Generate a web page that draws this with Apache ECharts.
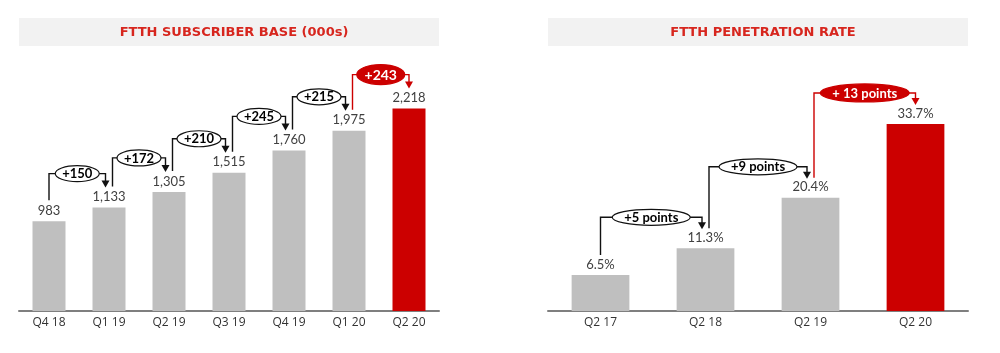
<!DOCTYPE html>
<html>
<head>
<meta charset="utf-8">
<script src="https://cdn.jsdelivr.net/npm/echarts@6/dist/echarts.min.js"></script>
<style>
  * { margin: 0; padding: 0; }
  #chart-container { width: 1000px; height: 353px; background: #fff; }
</style>
</head>
<body>
<div id="chart-container"></div>
<script>
  // left: FTTH subscriber base (000s)
  var subsQuarters = ['Q4 18', 'Q1 19', 'Q2 19', 'Q3 19', 'Q4 19', 'Q1 20', 'Q2 20']
  var subsValues = [983, 1133, 1305, 1515, 1760, 1975, 2218]
  var subsDeltas = ['+150', '+172', '+210', '+245', '+215', '+243']

  // right: FTTH penetration rate (%)
  var rateQuarters = ['Q2 17', 'Q2 18', 'Q2 19', 'Q2 20']
  var rateValues = [6.5, 11.3, 20.4, 33.7]
  var rateDeltas = ['+5 points', '+9 points', '+ 13 points']

  var RED = '#cc0000'
  var GREY = '#bfbfbf'
  var FONT = 'Lato'

  var chartDom = document.getElementById('chart-container')
  var myChart = echarts.init(chartDom, null, { renderer: 'canvas' })

  function barColor(n) {
    return function (p) {
      return p.dataIndex === n - 1 ? RED : GREY
    }
  }

  // bracket arrows between consecutive bars, positioned from the axes
  function brackets(axisIdx, values, deltas, cfg) {
    return {
      type: 'custom',
      xAxisIndex: axisIdx,
      yAxisIndex: axisIdx,
      silent: true,
      z: 5,
      encode: { x: 0, y: [1, 2] },
      data: deltas.map(function (d, i) {
        return [i, values[i], values[i + 1]]
      }),
      renderItem: function (params, api) {
        var i = api.value(0)
        var p0 = api.coord([i, api.value(1)])
        var p1 = api.coord([i + 1, api.value(2)])
        var last = params.dataIndex === deltas.length - 1
        var col = last ? RED : '#111'
        var sx = i === 0 ? p0[0] : p0[0] + 3.5
        var sy = p0[1] - cfg.gap
        var ax = last ? p1[0] : p1[0] - 3.5
        var tip = p1[1] - cfg.gap + 1
        var lvl = p1[1] - cfg.level
        var cx = (sx + ax) / 2
        var w = last ? cfg.redW : cfg.w
        var h = last ? cfg.redH : cfg.h
        return {
          type: 'group',
          children: [
            {
              type: 'polyline',
              shape: { points: [[sx, sy], [sx, lvl], [ax, lvl], [ax, tip - 6]] },
              style: { stroke: col, lineWidth: 1.4, fill: 'none' },
            },
            {
              type: 'polygon',
              shape: { points: [[ax - 4, tip - 7], [ax + 4, tip - 7], [ax, tip]] },
              style: { fill: col },
            },
            {
              type: 'ellipse',
              shape: { cx: cx, cy: lvl, rx: w / 2, ry: h / 2 },
              style: { fill: last ? RED : '#fff', stroke: col, lineWidth: 1.2 },
            },
            {
              type: 'text',
              x: cx,
              y: lvl + 0.5,
              style: {
                text: deltas[params.dataIndex],
                align: 'center',
                verticalAlign: 'middle',
                font: 'bold ' + (last ? cfg.redFs : cfg.fs) + 'px ' + FONT,
                fill: last ? '#fff' : '#000',
              },
            },
          ],
        }
      },
    }
  }

  function titleBar(x, text) {
    return [
      {
        type: 'rect',
        left: x,
        top: 18,
        shape: { width: 420, height: 28 },
        style: { fill: '#f2f2f2' },
      },
      {
        type: 'text',
        x: x + 215,
        y: 33,
        style: {
          text: text,
          align: 'center',
          verticalAlign: 'middle',
          font: 'bold 13px "DejaVu Sans"',
          fill: '#d7261e',
        },
      },
    ]
  }

  var xAxisBase = {
    type: 'category',
    axisTick: { show: false },
    axisLine: { lineStyle: { color: '#7f7f7f', width: 2 } },
    axisLabel: { color: '#333', fontSize: 12, fontFamily: 'Open Sans', margin: 6 },
  }

  var option = {
    animation: false,
    graphic: titleBar(19, 'FTTH SUBSCRIBER BASE (000s)').concat(
      titleBar(548, 'FTTH PENETRATION RATE')
    ),
    grid: [
      { left: 19, width: 420, top: 92, height: 219 },
      { left: 548, width: 420, top: 89, height: 222 },
    ],
    xAxis: [
      Object.assign({ gridIndex: 0, data: subsQuarters }, xAxisBase),
      Object.assign({ gridIndex: 1, data: rateQuarters }, xAxisBase),
    ],
    yAxis: [
      { gridIndex: 0, show: false, min: 0, max: 2400 },
      { gridIndex: 1, show: false, min: 0, max: 40 },
    ],
    series: [
      {
        type: 'bar',
        xAxisIndex: 0,
        yAxisIndex: 0,
        barWidth: '55%',
        data: subsValues,
        itemStyle: { color: barColor(subsValues.length) },
        label: {
          show: true,
          position: 'top',
          distance: 4,
          color: '#404040',
          fontSize: 13,
          fontFamily: FONT,
          formatter: function (p) {
            return p.value.toLocaleString('en-US')
          },
        },
      },
      {
        type: 'bar',
        xAxisIndex: 1,
        yAxisIndex: 1,
        barWidth: '55%',
        data: rateValues,
        itemStyle: { color: barColor(rateValues.length) },
        label: {
          show: true,
          position: 'top',
          distance: 4,
          color: '#404040',
          fontSize: 13,
          fontFamily: FONT,
          formatter: function (p) {
            return p.value.toFixed(1) + '%'
          },
        },
      },
      brackets(0, subsValues, subsDeltas, {
        gap: 21, level: 34, w: 44, h: 16, redW: 48, redH: 20, fs: 13, redFs: 14,
      }),
      brackets(1, rateValues, rateDeltas, {
        gap: 20, level: 31, w: 78, h: 16, redW: 89, redH: 18, fs: 13, redFs: 13,
      }),
    ],
  }

  myChart.setOption(option)
  window.addEventListener('resize', myChart.resize)
</script>
</body>
</html>
